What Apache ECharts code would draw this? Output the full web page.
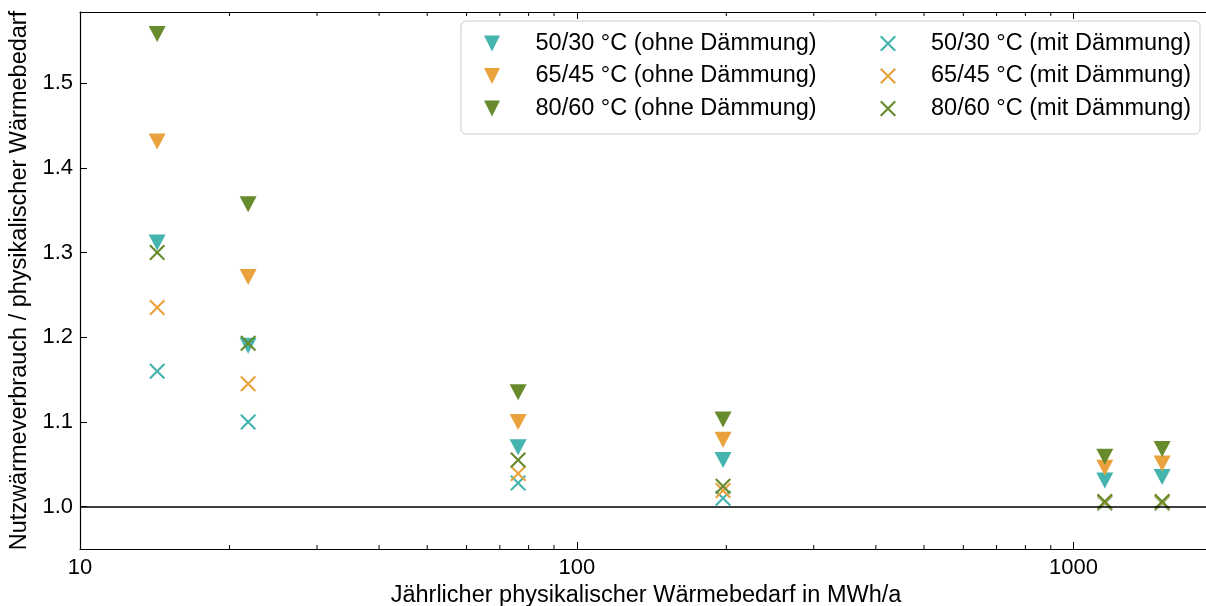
<!DOCTYPE html>
<html>
<head>
<meta charset="utf-8">
<title>Nutzwärmeverbrauch / physikalischer Wärmebedarf</title>
<script src="https://cdn.jsdelivr.net/npm/echarts@6/dist/echarts.min.js"></script>
<style>
  html, body { margin: 0; padding: 0; background: #fff; }
  #chart { width: 1206px; height: 606px; }
</style>
</head>
<body>
<div id="chart"></div>
<script>
// Jährlicher physikalischer Wärmebedarf (MWh/a)
const waermebedarf = [14.3, 21.8, 76.2, 197, 1156, 1508];

// Verhältnis Nutzwärmeverbrauch / physikalischer Wärmebedarf
const ohne5030 = [1.312, 1.190, 1.070, 1.055, 1.031, 1.035];
const ohne6545 = [1.431, 1.271, 1.100, 1.079, 1.046, 1.051];
const ohne8060 = [1.558, 1.357, 1.135, 1.103, 1.059, 1.068];
const mit5030 = [1.160, 1.100, 1.028, 1.010, 1.004, 1.004];
const mit6545 = [1.235, 1.145, 1.039, 1.019, 1.005, 1.005];
const mit8060 = [1.300, 1.193, 1.055, 1.024, 1.006, 1.006];

// kleine Striche der log-Achse
const minorTicks = [20, 30, 40, 50, 60, 70, 80, 90, 200, 300, 400, 500, 600, 700, 800, 900];

const FONT = "Liberation Sans";
const colTeal = "#45b4ae";
const colOrange = "#eaa23d";
const colGreen = "#678b2c";

const triDown = "path://M0,0L16,0L8,16Z";
const cross = "path://M0,1.5L1.5,0L8,6.5L14.5,0L16,1.5L9.5,8L16,14.5L14.5,16L8,9.5L1.5,16L0,14.5L6.5,8Z";

function pairs(ys) {
  return ys.map((y, i) => [waermebedarf[i], y]);
}

function scatter(name, ys, color, symbol, size) {
  return {
    name: name,
    type: "scatter",
    data: pairs(ys),
    symbol: symbol,
    symbolSize: size,
    itemStyle: { color: color, opacity: 1 },
    emphasis: { disabled: true },
  };
}

const chart = echarts.init(document.getElementById("chart"));

const series = [
  scatter("50/30 °C (ohne Dämmung)", ohne5030, colTeal, triDown, [17, 16]),
  scatter("65/45 °C (ohne Dämmung)", ohne6545, colOrange, triDown, [17, 16]),
  scatter("80/60 °C (ohne Dämmung)", ohne8060, colGreen, triDown, [17, 16]),
  scatter("50/30 °C (mit Dämmung)", mit5030, colTeal, cross, [16, 16]),
  scatter("65/45 °C (mit Dämmung)", mit6545, colOrange, cross, [16, 16]),
  scatter("80/60 °C (mit Dämmung)", mit8060, colGreen, cross, [16, 16]),
];

// Linie bei 1.0
series[0].markLine = {
  silent: true,
  symbol: "none",
  label: { show: false },
  lineStyle: { color: "#000", width: 1.6, type: "solid" },
  data: [{ yAxis: 1.0 }],
};

// kleine Striche unten und oben
series.push({
  type: "custom",
  silent: true,
  data: minorTicks.map((v) => [v, 1]),
  renderItem: function (params, api) {
    const x = api.coord([api.value(0), 1])[0];
    const cs = params.coordSys;
    const st = { stroke: "#000", lineWidth: 1 };
    return {
      type: "group",
      children: [
        { type: "line", shape: { x1: x, y1: cs.y + cs.height, x2: x, y2: cs.y + cs.height - 4 }, style: st },
        { type: "line", shape: { x1: x, y1: cs.y, x2: x, y2: cs.y + 4 }, style: st },
      ],
    };
  },
  z: 3,
});

const legendText = {
  color: "#000",
  fontFamily: FONT,
  fontSize: 23.5,
  lineHeight: 25,
  padding: [0, 0, 0, 30],
};

chart.setOption({
  animation: false,
  backgroundColor: "#fff",
  grid: { left: 80, width: 1132, top: 12, height: 537, outerBoundsMode: "none", containLabel: false },
  xAxis: [
    {
      type: "log",
      logBase: 10,
      min: 10,
      max: 1900,
      name: "Jährlicher physikalischer Wärmebedarf in MWh/a",
      nameLocation: "middle",
      nameGap: 31,
      nameTextStyle: { color: "#000", fontFamily: FONT, fontSize: 23.5 },
      axisLine: { lineStyle: { color: "#000", width: 1.2 } },
      axisTick: { inside: true, length: 7, lineStyle: { color: "#000" } },
      axisLabel: {
        color: "#000",
        fontFamily: FONT,
        fontSize: 22,
        margin: 8,
        formatter: function (v) {
          const l = Math.log10(v);
          return Math.abs(l - Math.round(l)) < 1e-6 ? String(Math.round(v)) : "";
        },
      },
      splitLine: { show: false },
    },
    {
      type: "log",
      logBase: 10,
      min: 10,
      max: 1900,
      position: "top",
      axisLine: { lineStyle: { color: "#000", width: 1.2 } },
      axisTick: { inside: true, length: 7, lineStyle: { color: "#000" } },
      axisLabel: { show: false },
      splitLine: { show: false },
    },
  ],
  yAxis: {
    type: "value",
    min: 0.95,
    max: 1.584,
    name: "Nutzwärmeverbrauch / physikalischer Wärmebedarf",
    nameLocation: "middle",
    nameGap: 46,
    nameTextStyle: { color: "#000", fontFamily: FONT, fontSize: 23.5 },
    axisLine: { show: true, lineStyle: { color: "#000", width: 1.2 } },
    axisTick: { show: true, inside: true, length: 7, lineStyle: { color: "#000" } },
    axisLabel: {
      color: "#000",
      fontFamily: FONT,
      fontSize: 22,
      margin: 7,
      formatter: function (v) {
        const t = v * 10;
        return Math.abs(t - Math.round(t)) < 1e-6 ? v.toFixed(1) : "";
      },
    },
    splitLine: { show: false },
  },
  legend: [
    {
      orient: "vertical",
      left: 484,
      top: 31,
      padding: 0,
      itemGap: 7.5,
      itemWidth: 17,
      itemHeight: 16,
      textStyle: legendText,
      selectedMode: false,
      data: ["50/30 °C (ohne Dämmung)", "65/45 °C (ohne Dämmung)", "80/60 °C (ohne Dämmung)"],
      z: 5,
    },
    {
      orient: "vertical",
      left: 880,
      top: 31,
      padding: 0,
      itemGap: 7.5,
      itemWidth: 16,
      itemHeight: 16,
      textStyle: legendText,
      selectedMode: false,
      data: ["50/30 °C (mit Dämmung)", "65/45 °C (mit Dämmung)", "80/60 °C (mit Dämmung)"],
      z: 5,
    },
  ],
  graphic: [
    {
      type: "rect",
      z: 4,
      shape: { x: 461, y: 21, width: 739, height: 113, r: 5 },
      style: { fill: "rgba(255,255,255,0.85)", stroke: "#cccccc", lineWidth: 1 },
    },
  ],
  series: series,
});
</script>
</body>
</html>
